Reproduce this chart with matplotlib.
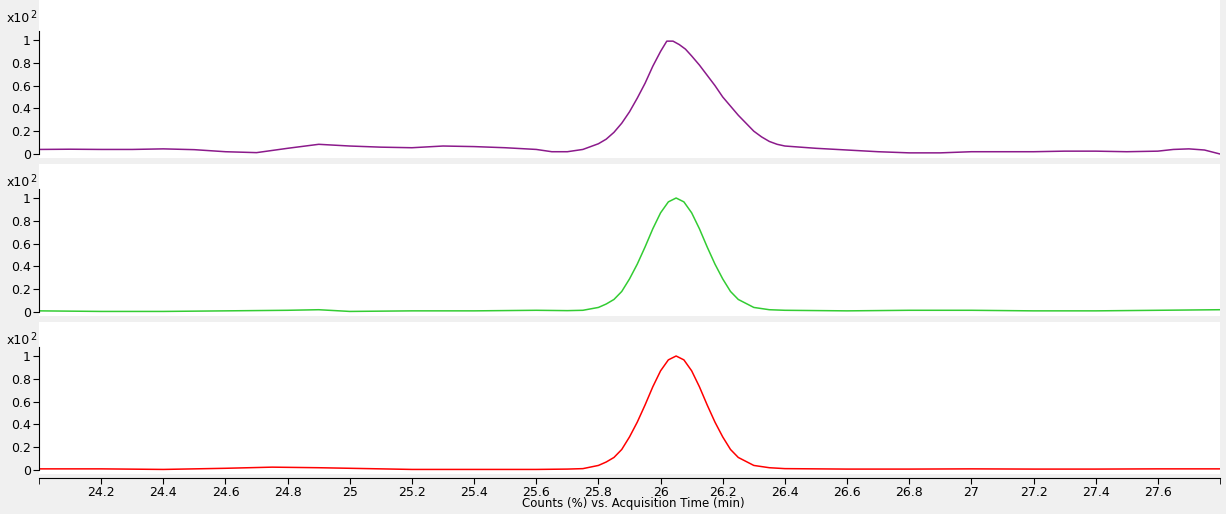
import matplotlib
matplotlib.use("Agg")
import matplotlib.pyplot as plt

t1 = [24.0,24.1,24.2,24.3,24.4,24.5,24.6,24.7,24.8,24.9,25.0,25.1,25.2,25.3,25.4,25.5,25.6,25.65,25.7,25.75,25.8,25.825,25.85,25.875,25.9,25.925,25.95,25.975,26.0,26.02,26.04,26.06,26.08,26.1,26.125,26.15,26.175,26.2,26.225,26.25,26.275,26.3,26.325,26.35,26.375,26.4,26.5,26.6,26.7,26.8,26.9,27.0,27.1,27.2,27.3,27.4,27.5,27.6,27.65,27.7,27.75,27.8]
v1 = [0.04,0.042,0.04,0.04,0.045,0.038,0.02,0.012,0.05,0.085,0.07,0.06,0.055,0.07,0.065,0.055,0.04,0.02,0.02,0.04,0.09,0.13,0.19,0.27,0.37,0.49,0.62,0.77,0.90,0.99,0.99,0.96,0.92,0.86,0.78,0.69,0.60,0.50,0.42,0.34,0.27,0.20,0.15,0.11,0.085,0.07,0.05,0.035,0.02,0.01,0.01,0.02,0.02,0.02,0.025,0.025,0.02,0.025,0.04,0.045,0.035,0.0]
t2 = [24.0,24.2,24.4,24.6,24.8,24.9,25.0,25.2,25.4,25.6,25.7,25.75,25.8,25.825,25.85,25.875,25.9,25.925,25.95,25.975,26.0,26.025,26.05,26.075,26.1,26.125,26.15,26.175,26.2,26.225,26.25,26.3,26.35,26.4,26.6,26.8,27.0,27.2,27.4,27.6,27.8]
v2 = [0.01,0.005,0.005,0.01,0.015,0.02,0.005,0.01,0.01,0.015,0.012,0.015,0.04,0.07,0.11,0.18,0.29,0.42,0.57,0.73,0.87,0.966,1.0,0.966,0.87,0.73,0.57,0.42,0.29,0.18,0.11,0.04,0.02,0.015,0.01,0.015,0.015,0.01,0.01,0.015,0.02]
t3 = [24.0,24.2,24.4,24.6,24.75,24.9,25.0,25.2,25.4,25.6,25.7,25.75,25.8,25.825,25.85,25.875,25.9,25.925,25.95,25.975,26.0,26.025,26.05,26.075,26.1,26.125,26.15,26.175,26.2,26.225,26.25,26.3,26.35,26.4,26.6,26.8,27.0,27.2,27.4,27.6,27.8]
v3 = [0.01,0.01,0.005,0.015,0.025,0.02,0.015,0.005,0.005,0.005,0.008,0.012,0.04,0.07,0.11,0.18,0.29,0.42,0.57,0.73,0.87,0.966,1.0,0.966,0.87,0.73,0.57,0.42,0.29,0.18,0.11,0.04,0.02,0.012,0.008,0.008,0.01,0.008,0.008,0.01,0.01]
series = [(t1, v1, "#8b1a8b"), (t2, v2, "#33cc33"), (t3, v3, "#ff0000")]
yticks = [0, 0.2, 0.4, 0.6, 0.8, 1]
ylabels = ["0", "0.2", "0.4", "0.6", "0.8", "1"]
xticks = [24.2,24.4,24.6,24.8,25.0,25.2,25.4,25.6,25.8,26.0,26.2,26.4,26.6,26.8,27.0,27.2,27.4,27.6]
xlabels = ["24.2","24.4","24.6","24.8","25","25.2","25.4","25.6","25.8","26","26.2","26.4","26.6","26.8","27","27.2","27.4","27.6"]

W, H = 1226, 514
fig = plt.figure(figsize=(W/100, H/100), dpi=100, facecolor="#f0f0f0")
XMIN, XMAX = 24.0, 27.8
L, R = 39, 1220
panels = [(0, 158), (164, 316), (322, 474)]
for (top, bot), (t, v, c) in zip(panels, series):
    ax = fig.add_axes([L/W, 1-bot/H, (R-L)/W, (bot-top)/H])
    ax.plot(t, v, color=c, lw=1.1)
    ax.set_xlim(XMIN, XMAX)
    ax.set_ylim(-4/114, (bot-top-4)/114)
    for s in ["top", "right", "bottom"]:
        ax.spines[s].set_visible(False)
    ax.spines["left"].set_bounds(0, 1.08)
    ax.set_yticks(yticks)
    ax.set_yticklabels(ylabels, fontsize=9)
    ax.tick_params(axis="y", length=4, pad=2)
    ax.set_xticks([])
    ax.text(-32/(R-L), (bot-top-18)/(bot-top), "x10", transform=ax.transAxes, fontsize=9, va="center")
    ax.text(-9/(R-L), (bot-top-15)/(bot-top), "2", transform=ax.transAxes, fontsize=7, va="center")

axx = fig.add_axes([L/W, 1-478/H, (R-L)/W, 0.001])
axx.set_xlim(XMIN, XMAX)
axx.set_yticks([])
for s in ["top", "right", "left"]:
    axx.spines[s].set_visible(False)
axx.set_xticks(xticks)
axx.set_xticklabels(xlabels, fontsize=9)
axx.set_xticks([24.0, 27.8], minor=True)
axx.tick_params(axis="x", which="both", length=4, pad=2)
axx.patch.set_alpha(0)
fig.text(633/W, 1-504/H, "Counts (%) vs. Acquisition Time (min)", ha="center", va="center", fontsize=8.5)
fig.savefig("out.png", dpi=100, facecolor=fig.get_facecolor())
